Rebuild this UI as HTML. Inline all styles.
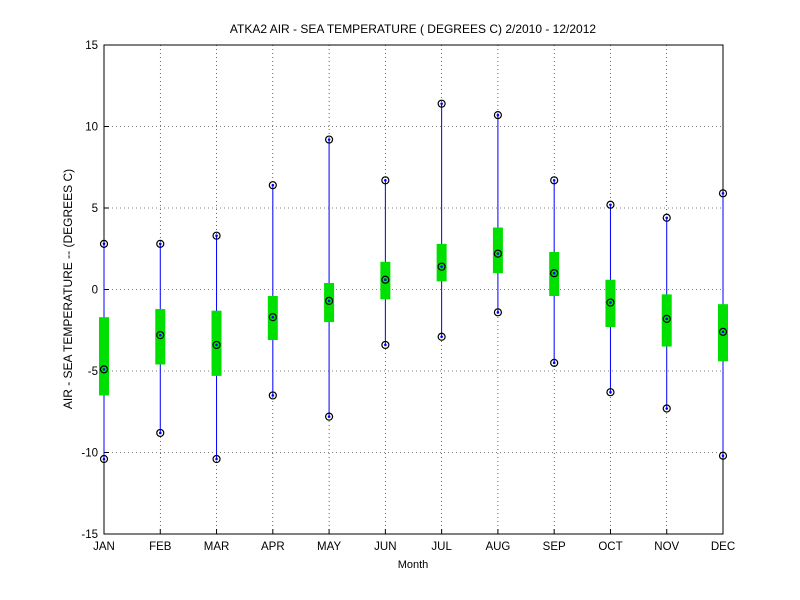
<!DOCTYPE html>
<html><head><meta charset="utf-8"><style>
html,body{margin:0;padding:0;background:#fff;}
svg{display:block;font-family:"Liberation Sans",sans-serif;}
</style></head><body>
<svg id="chart" width="800" height="600" viewBox="0 0 800 600" xmlns="http://www.w3.org/2000/svg">
<rect x="0" y="0" width="800" height="600" fill="#fff"/>
<text x="413" y="33" font-size="12" text-anchor="middle">ATKA2  AIR - SEA TEMPERATURE ( DEGREES C) 2/2010 - 12/2012</text>
<text x="413" y="568" font-size="11" text-anchor="middle">Month</text>
<text transform="translate(72,289) rotate(-90)" font-size="12" text-anchor="middle">AIR - SEA TEMPERATURE -- (DEGREES C)</text>
<g id="grid"></g>
<g id="axes"></g>
<g id="marks"></g>
</svg>
<script>
const months = ["JAN","FEB","MAR","APR","MAY","JUN","JUL","AUG","SEP","OCT","NOV","DEC"];
const maxVals = [2.8,2.8,3.3,6.4,9.2,6.7,11.4,10.7,6.7,5.2,4.4,5.9];
const minVals = [-10.4,-8.8,-10.4,-6.5,-7.8,-3.4,-2.9,-1.4,-4.5,-6.3,-7.3,-10.2];
const medianVals = [-4.9,-2.8,-3.4,-1.7,-0.7,0.6,1.4,2.2,1.0,-0.8,-1.8,-2.6];
const q1Vals = [-6.5,-4.6,-5.3,-3.1,-2.0,-0.6,0.5,1.0,-0.4,-2.3,-3.5,-4.4];
const q3Vals = [-1.7,-1.2,-1.3,-0.4,0.4,1.7,2.8,3.8,2.3,0.6,-0.3,-0.9];
const yTicks = [-15,-10,-5,0,5,10,15];

const L=104,R=723,T=45,B=534,yMin=-15,yMax=15;
const x=i=>L+i*(R-L)/(months.length-1);
const y=v=>B-(v-yMin)/(yMax-yMin)*(B-T);
const NS="http://www.w3.org/2000/svg";
function mk(tag,attrs,parent){const e=document.createElementNS(NS,tag);for(const k in attrs)e.setAttribute(k,attrs[k]);parent.appendChild(e);return e;}
const grid=document.getElementById('grid'),marks=document.getElementById('marks'),axes=document.getElementById('axes');

months.forEach((m,i)=>{
  const g=mk('line',{x1:x(i),x2:x(i),y1:T,y2:B,stroke:'#000','stroke-width':0.6,'stroke-dasharray':'1,3'},grid);
  
  
  const t=mk('text',{x:x(i),y:B+16,'font-size':11.5,'text-anchor':'middle'},axes);
  t.textContent=m;
  
  
  const tk=mk('line',{x1:x(i),x2:x(i),y1:B,y2:B-5,stroke:'#000'},axes);
  
  
});
yTicks.forEach(v=>{
  const g=mk('line',{x1:L,x2:R,y1:y(v),y2:y(v),stroke:'#000','stroke-width':0.6,'stroke-dasharray':'1,3'},grid);
  
  
  const t=mk('text',{x:L-6,y:y(v)+4,'font-size':11.5,'text-anchor':'end'},axes);
  t.textContent=v;
  
  
  const tk=mk('line',{x1:L,x2:L+5,y1:y(v),y2:y(v),stroke:'#000'},axes);
  
  
});
const frame=mk('rect',{x:L,y:T,width:R-L,height:B-T,fill:'none',stroke:'#000'},axes);



months.forEach((m,i)=>{
  const cx=x(i);
  const w=mk('line',{x1:cx,x2:cx,y1:y(maxVals[i]),y2:y(minVals[i]),stroke:'#0000ff','stroke-width':1},marks);
  
  
  const b=mk('rect',{x:cx-5,y:y(q3Vals[i]),width:10,height:y(q1Vals[i])-y(q3Vals[i]),fill:'#00e000'},marks);
  
  
  [maxVals[i],medianVals[i],minVals[i]].forEach((v,k)=>{
    const c=mk('circle',{cx:cx,cy:y(v),r:3.5,fill:'none',stroke:'#000','stroke-width':1.2},marks);
    
    
    const d=mk('circle',{cx:cx,cy:y(v),r:1.3,fill:'#0000ff'},marks);
    
    
  });
});
</script>
</body></html>
